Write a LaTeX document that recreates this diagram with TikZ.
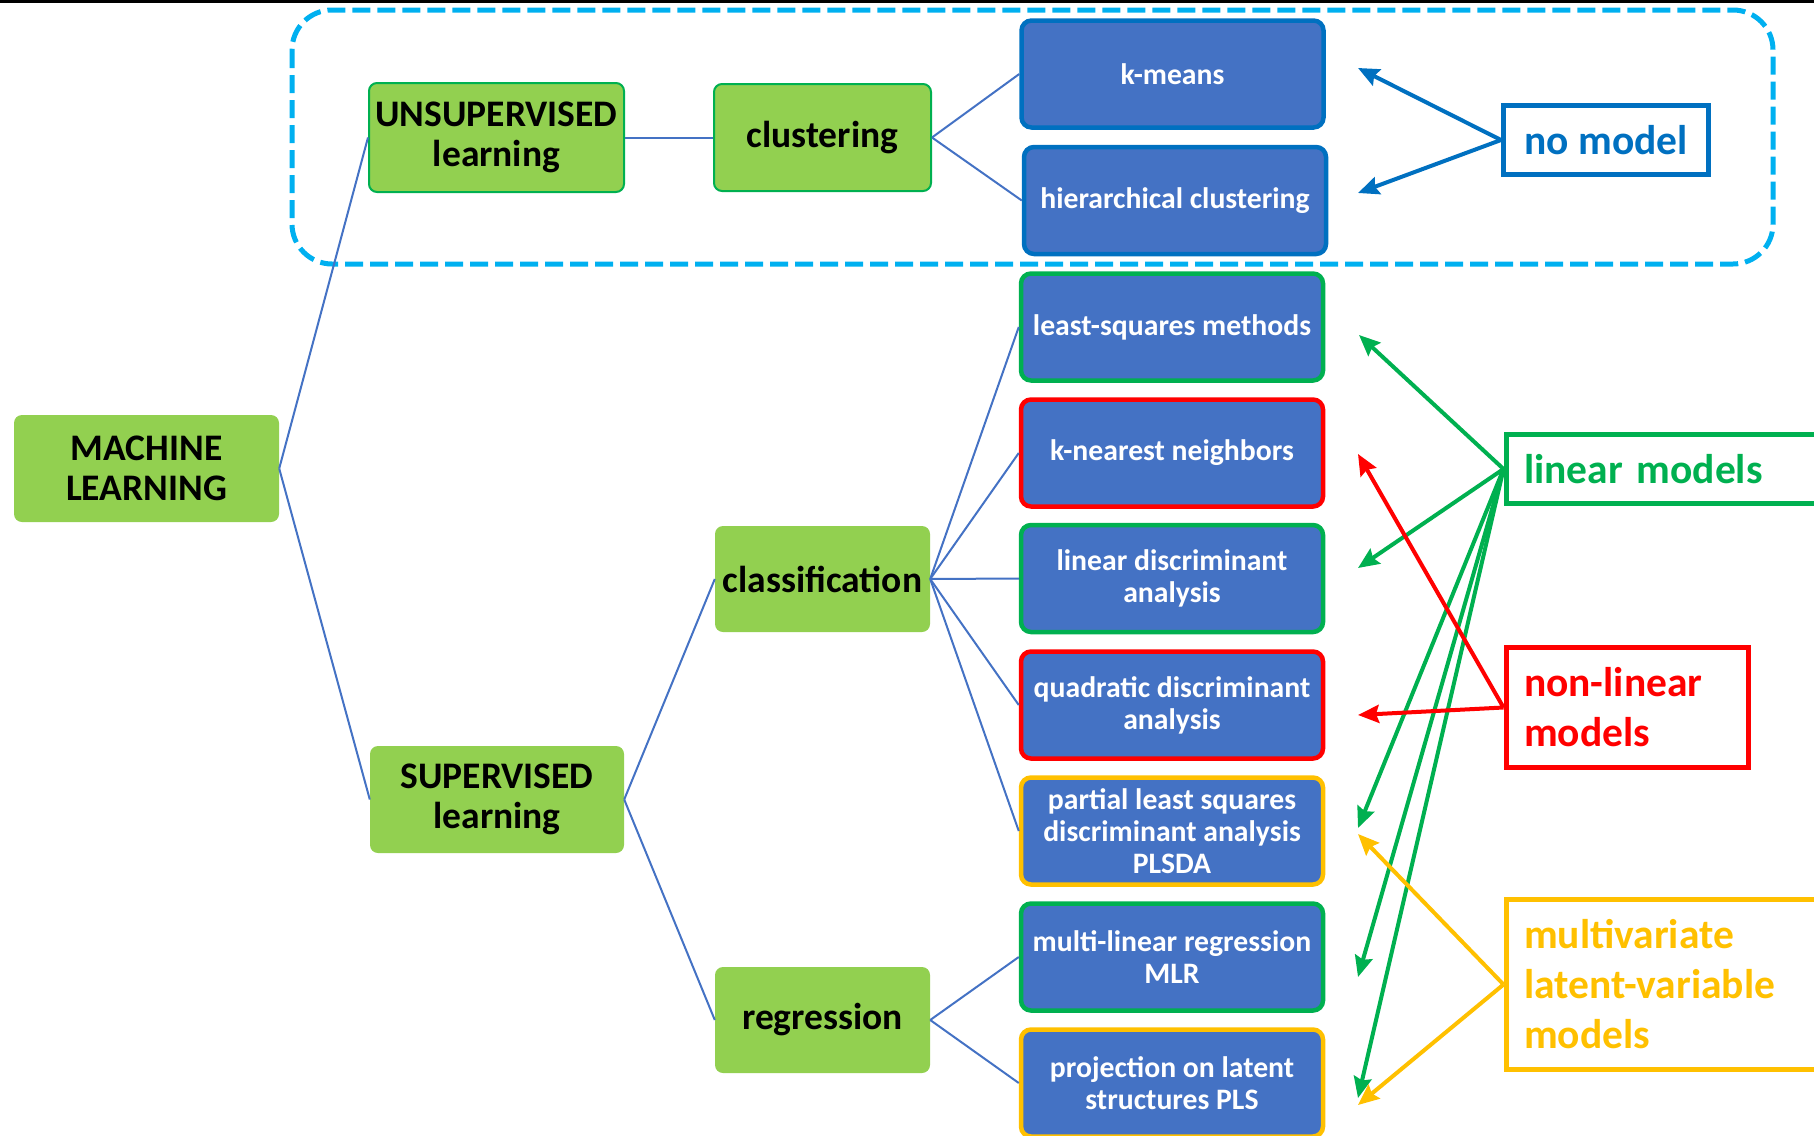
\documentclass[tikz,border=0pt]{standalone}
\usepackage{fontspec}
\setmainfont{Carlito}
\usetikzlibrary{arrows.meta}
\definecolor{gfill}{HTML}{92D050}
\definecolor{gline}{HTML}{00B050}
\definecolor{bfill}{HTML}{4472C4}
\definecolor{bline}{HTML}{0070C0}
\definecolor{rline}{HTML}{FF0000}
\definecolor{yline}{HTML}{FFC000}
\definecolor{cdash}{HTML}{00B0F0}
\begin{document}
\begin{tikzpicture}[x=1pt,y=-1pt,
  greenbox/.style={fill=gfill, rounded corners=8pt, font=\fontsize{37.5}{40}\selectfont\bfseries, align=center, inner sep=0pt},
  methodbox/.style={fill=bfill, draw=#1, line width=4.5pt, rounded corners=10pt, minimum width=302pt, minimum height=107pt, text=white, font=\fontsize{29.7}{32}\selectfont\bfseries, align=center, inner sep=0pt},
  labelbox/.style={draw=#1, line width=5pt, text=#1, font=\fontsize{41.5}{50}\selectfont\bfseries, align=left, inner xsep=18pt, inner ysep=0pt},
  tree/.style={draw=bfill, line width=2pt},
  arr/.style={draw=#1, line width=4pt, -{Stealth[length=21pt,width=18pt,inset=3pt]}}
]
\useasboundingbox (0,0) rectangle (1814,1135);
\fill[black] (0,0) rectangle (1814,2.5);
% dashed group
\draw[cdash, line width=5pt, dash pattern=on 18pt off 7pt, rounded corners=40pt] (292,10) rectangle (1773,264);

% green nodes
\node[greenbox, minimum width=265pt, minimum height=107pt] (ml) at (146.5,468.5) {MACHINE\\LEARNING};
\node[greenbox, draw=gline, line width=2pt, minimum width=255pt, minimum height=109pt] (unsup) at (496.5,137.5) {UNSUPERVISED\\learning};
\node[greenbox, minimum width=254pt, minimum height=107pt] (sup) at (497,799.5) {SUPERVISED\\learning};
\node[greenbox, draw=gline, line width=2pt, minimum width=217pt, minimum height=107pt] (clu) at (822.5,137.5) {clustering};
\node[greenbox, minimum width=215pt, minimum height=106pt] (cla) at (822.5,579) {classification};
\node[greenbox, minimum width=215pt, minimum height=106pt] (reg) at (822.5,1020) {regression};

% method nodes
\node[methodbox=bline] (km) at (1172.5,74) {k-means};
\node[methodbox=bline] (hc) at (1175,200.5) {hierarchical clustering};
\node[methodbox=gline] (ls) at (1172,327) {least-squares methods};
\node[methodbox=rline] (knn) at (1172,453) {k-nearest neighbors};
\node[methodbox=gline] (lda) at (1172,578.5) {linear discriminant\\analysis};
\node[methodbox=rline] (qda) at (1172,705) {quadratic discriminant\\analysis};
\node[methodbox=yline] (plsda) at (1172,831) {partial least squares\\discriminant analysis\\PLSDA};
\node[methodbox=gline] (mlr) at (1172,957) {multi-linear regression\\MLR};
\node[methodbox=yline] (pls) at (1172,1083) {projection on latent\\structures PLS};

% label nodes
\node[labelbox=bline, minimum width=205pt, minimum height=69pt, align=center] (nm) at (1606,140) {no model};
\node[labelbox=gline, anchor=west, text width=340pt, minimum height=69pt] (lin) at (1503.5,469) {linear models};
\node[labelbox=rline, anchor=west, text width=206pt, minimum height=120pt] (nonlin) at (1503.5,707.5) {non-linear\\models};
\node[labelbox=yline, anchor=west, text width=340pt, minimum height=170pt] (multi) at (1503.5,984.5) {multivariate\\latent-variable\\models};

% tree connectors
\draw[tree] (ml.east) -- (unsup.west);
\draw[tree] (ml.east) -- (sup.west);
\draw[tree] (unsup.east) -- (clu.west);
\draw[tree] (clu.east) -- (km.west);
\draw[tree] (clu.east) -- (hc.west);
\draw[tree] (sup.east) -- (cla.west);
\draw[tree] (sup.east) -- (reg.west);
\foreach \t in {ls,knn,lda,qda,plsda} \draw[tree] (cla.east) -- (\t.west);
\draw[tree] (reg.east) -- (mlr.west);
\draw[tree] (reg.east) -- (pls.west);

% arrow tips
\coordinate (tkm) at (1358,68);
\coordinate (thc) at (1358,193);
\coordinate (tls) at (1359,335);
\coordinate (tknn) at (1358,454);
\coordinate (tlda) at (1358,568);
\coordinate (tqda) at (1358,715);
\coordinate (tplsdag) at (1358,828);
\coordinate (tplsday) at (1358,834);
\coordinate (tmlr) at (1358,977);
\coordinate (tplsg) at (1358,1098);
\coordinate (tplsy) at (1358,1105);

\draw[arr=bline] (nm.west) -- (tkm);
\draw[arr=bline] (nm.west) -- (thc);
\foreach \t in {tls,tlda,tplsdag,tmlr,tplsg} \draw[arr=gline] (lin.west) -- (\t);
\draw[arr=rline] (nonlin.west) -- (tknn);
\draw[arr=rline] (nonlin.west) -- (tqda);
\draw[arr=yline] (multi.west) -- (tplsday);
\draw[arr=yline] (multi.west) -- (tplsy);
\end{tikzpicture}
\end{document}
